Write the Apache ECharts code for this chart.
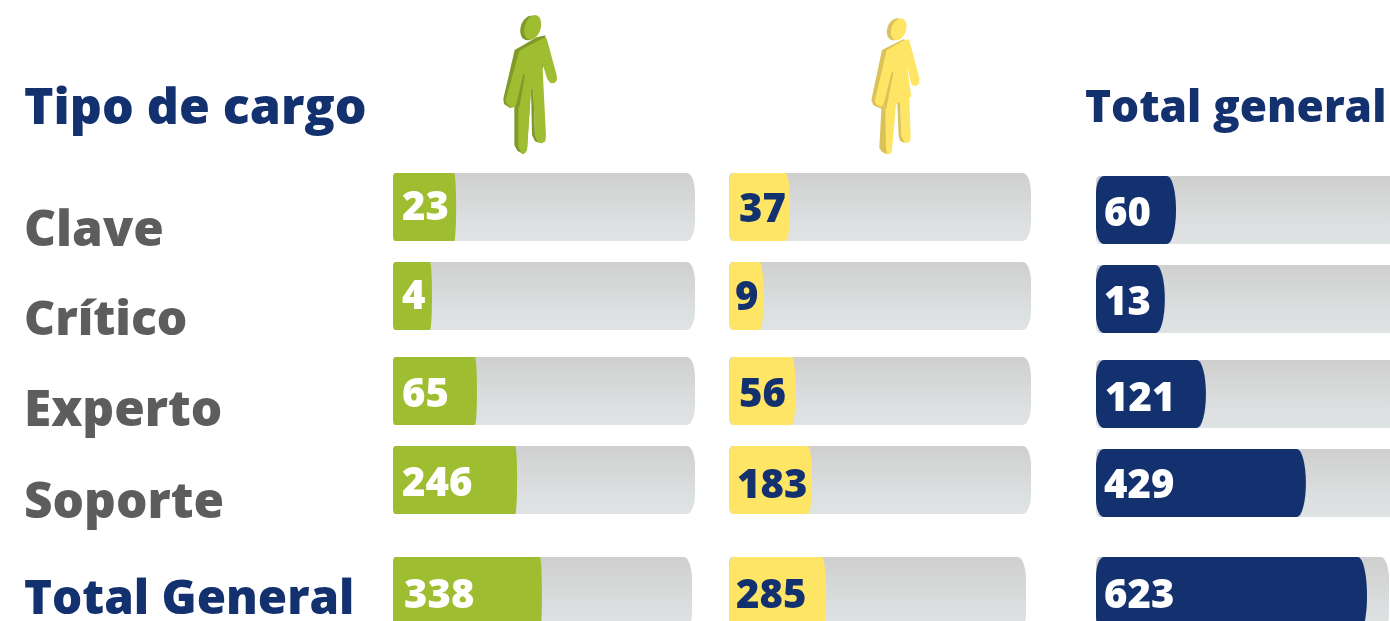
<!DOCTYPE html>
<html lang="es">
<head>
<meta charset="utf-8">
<title>Tipo de cargo</title>
<script src="https://cdn.jsdelivr.net/npm/echarts@6/dist/echarts.min.js"></script>
<style>
  html, body { margin: 0; padding: 0; background: #fff; overflow: hidden; width: 1390px; height: 621px; }
  /* el lienzo sobrepasa la ventana: la última fila y la tercera columna salen cortadas */
  #chart { width: 1420px; height: 680px; }
</style>
</head>
<body>
<div id="chart"></div>
<script>
// etiquetas de la imagen
const cargos = ['Clave', 'Crítico', 'Experto', 'Soporte', 'Total General'];

// cifras impresas en cada barra
const hombres = [23, 4, 65, 246, 338];
const mujeres = [37, 9, 56, 183, 285];
const totales = [60, 13, 121, 429, 623];

// largo dibujado de cada barra, en % del carril (en el original no es proporcional a la cifra)
const largoHombres = [20.9, 12.9, 27.8, 41.1, 49.8];
const largoMujeres = [20.2, 11.5, 22.1, 27.5, 32.7];
const largoTotales = [26.5, 22.8, 36.4, 69.5, 92.5];

const VERDE = '#9fbd30', AMARILLO = '#ffe566', AZUL = '#14316f', GRIS = '#5d5d5d';
const FONT = '"Open Sans"';

// una columna por serie: posición de los carriles y estilo
// esq = [radio x izq, fracción y izq, radio x der, fracción y der]
const columnas = [
  { datos: hombres, largos: largoHombres, color: VERDE, txt: '#fff', left: 393, width: 302, lastW: 299, dy: 0,
    pad: [9, 9, 9, 9, 11], tdy: [2, 2, 5, 5, 1], esq: [2, 0.15, 2, 1] },
  { datos: mujeres, largos: largoMujeres, color: AMARILLO, txt: AZUL, left: 729, width: 302, lastW: 297, dy: 0,
    pad: [10, 6, 10, 8, 7], tdy: [4, 3, 5, 7, 1], esq: [4, 0.4, 4, 1] },
  { datos: totales, largos: largoTotales, color: AZUL, txt: '#fff', left: 1096, width: 302, lastW: 293, dy: 3,
    pad: [8, 8, 9, 8, 8], tdy: [5, 5, 6, 4, 1], esq: [8, 0.5, 9, 1] }
];
const filasTop = [173, 262, 357, 446, 557];
const filasAlto = [68, 68, 68, 68, 78];
const ESQ_CARRIL = [3, 0.2, 8, 0.6];

const carril = {
  type: 'linear', x: 0, y: 0, x2: 0, y2: 1,
  colorStops: [{ offset: 0, color: '#cfcfcf' }, { offset: 0.75, color: '#dde0e1' }, { offset: 1, color: '#dfe3e4' }]
};

// barra con extremos elípticos, a partir de las coordenadas del eje
function contorno(x0, x1, yc, alto, esq) {
  const h = alto / 2, pts = [];
  const arco = (cx, cy, rx, ry, desde) => {
    for (let k = 0; k <= 8; k++) {
      const a = desde + k / 8 * Math.PI / 2;
      pts.push([cx + rx * Math.cos(a), cy + ry * Math.sin(a)]);
    }
  };
  const ryI = h * esq[1], ryD = h * esq[3];
  arco(x0 + esq[0], yc - h + ryI, esq[0], ryI, Math.PI);
  arco(x1 - esq[2], yc - h + ryD, esq[2], ryD, -Math.PI / 2);
  arco(x1 - esq[2], yc + h - ryD, esq[2], ryD, 0);
  arco(x0 + esq[0], yc + h - ryI, esq[0], ryI, Math.PI / 2);
  return pts;
}

const barra = (fill, esq, etiqueta) => (params, api) => {
  const ini = api.coord([0, api.value(1)]);
  const fin = api.coord([api.value(0), api.value(1)]);
  const alto = api.size([0, 1])[1];
  const hijos = [{
    type: 'polygon',
    shape: { points: contorno(ini[0], fin[0], ini[1], alto, esq) },
    style: { fill }
  }];
  if (etiqueta) {
    hijos.push({
      type: 'text', x: ini[0] + etiqueta.pad, y: ini[1] + etiqueta.dy,
      style: {
        text: etiqueta.text, fill: etiqueta.fill, font: '800 40px ' + FONT,
        textVerticalAlign: 'middle'
      }
    });
  }
  return { type: 'group', children: hijos };
};

const grids = [], xAxes = [], yAxes = [], series = [];
columnas.forEach((col) => {
  cargos.forEach((cargo, i) => {
    const g = grids.length;
    const ultima = i === cargos.length - 1;
    grids.push({
      left: col.left,
      top: filasTop[i] + (ultima ? 0 : col.dy),
      width: ultima ? col.lastW : col.width,
      height: filasAlto[i]
    });
    xAxes.push({ gridIndex: g, type: 'value', min: 0, max: 100, show: false });
    yAxes.push({ gridIndex: g, type: 'category', data: [cargo], show: false });
    series.push({
      type: 'custom', xAxisIndex: g, yAxisIndex: g, silent: true, clip: false,
      encode: { x: 0, y: 1 },
      data: [[100, 0]],
      renderItem: barra(carril, ESQ_CARRIL)
    });
    series.push({
      type: 'custom', xAxisIndex: g, yAxisIndex: g, silent: true, clip: false,
      encode: { x: 0, y: 1 },
      data: [[col.largos[i], 0]],
      renderItem: barra(col.color, col.esq, { text: String(col.datos[i]), fill: col.txt, pad: col.pad[i], dy: col.tdy[i] })
    });
  });
});

const texto = (t, x, y, size, color) => ({
  type: 'text', x, y,
  style: { text: t, fill: color, font: '800 ' + size + 'px ' + FONT, textVerticalAlign: 'middle' }
});

// contorno del pictograma: puntos en píxeles de un recuadro 100x165 ampliado x3
const elipse = (cx, cy, rx, ry, rot) => {
  const pts = [];
  for (let k = 0; k < 32; k++) {
    const a = k / 32 * Math.PI * 2;
    const ex = rx * Math.cos(a), ey = ry * Math.sin(a);
    pts.push([cx + ex * Math.cos(rot) - ey * Math.sin(rot), cy + ex * Math.sin(rot) + ey * Math.cos(rot)]);
  }
  return pts;
};
const poli = (puntos, fill) => ({ type: 'polygon', shape: { points: puntos }, style: { fill } });
const silueta = (x, y, partes) => ({ type: 'group', x, y, scaleX: 1 / 3, scaleY: 1 / 3, children: partes });

const hombreLado = [[104, 150], [170, 112], [196, 106], [190, 200], [153, 268], [141, 450], [130, 463], [112, 452], [103, 436], [103, 318], [90, 324], [72, 312], [70, 296]];
const hombreFrente = [[118, 152], [186, 116], [198, 112], [202, 122], [230, 226], [231, 240], [224, 249], [212, 250], [202, 238], [187, 190], [198, 408], [196, 424], [186, 430], [176, 428], [165, 405], [160, 268], [153, 268], [141, 448], [135, 460], [124, 458], [115, 440], [115, 320], [108, 316], [96, 324], [84, 316], [77, 306], [78, 296]];
const hombreRanura = [[130, 222], [135, 224], [118, 322], [108, 316]];
const hombrePierna = [[153, 268], [160, 268], [165, 405], [176, 428], [165, 424], [156, 405]];
const mujerLado = [[96, 150], [160, 118], [176, 122], [165, 200], [140, 312], [108, 332], [112, 450], [112, 463], [96, 456], [88, 444], [94, 326], [70, 316], [64, 300]];
const mujerFrente = [[110, 150], [164, 120], [176, 118], [180, 128], [208, 234], [208, 250], [198, 258], [186, 256], [182, 246], [170, 192], [184, 290], [178, 294], [182, 410], [180, 426], [168, 430], [160, 424], [154, 408], [150, 306], [138, 314], [126, 450], [122, 462], [112, 462], [108, 445], [106, 330], [100, 316], [92, 320], [80, 314], [74, 304], [76, 296]];
const mujerRanura = [[126, 214], [130, 218], [108, 330], [100, 316]];
const mujerPierna = [[142, 310], [150, 306], [154, 408], [165, 430], [150, 422], [146, 408]];

const graphic = [
  texto('Tipo de cargo', 24, 110, 50, AZUL),
  texto('Total general', 1085, 109, 44.2, AZUL),
  texto(cargos[0], 24, 232, 49.5, GRIS),
  texto(cargos[1], 24, 321, 48, GRIS),
  texto(cargos[2], 24, 412, 49.5, GRIS),
  texto(cargos[3], 24, 504, 49.5, GRIS),
  texto(cargos[4], 24, 600, 47.5, AZUL),
  silueta(480, 0, [
    poli(elipse(148, 84, 26, 38, 0.3), '#7f9a2b'),
    poli(hombreLado, '#7f9a2b'),
    poli(elipse(158, 82, 24, 38, 0.3), VERDE),
    poli(hombreFrente, VERDE),
    poli(hombreRanura, '#7f9a2b'),
    poli(hombrePierna, '#7f9a2b')
  ]),
  silueta(850, 0, [
    poli(elipse(136, 88, 24, 34, 0.35), '#d9c25a'),
    poli(mujerLado, '#d9c25a'),
    poli(elipse(146, 88, 22, 34, 0.35), AMARILLO),
    poli(mujerFrente, AMARILLO),
    poli(mujerRanura, '#d9c25a'),
    poli(mujerPierna, '#d9c25a')
  ])
];

const chart = echarts.init(document.getElementById('chart'), null, { renderer: 'canvas' });
chart.setOption({
  animation: false,
  grid: grids,
  xAxis: xAxes,
  yAxis: yAxes,
  series,
  graphic
});
</script>
</body>
</html>
